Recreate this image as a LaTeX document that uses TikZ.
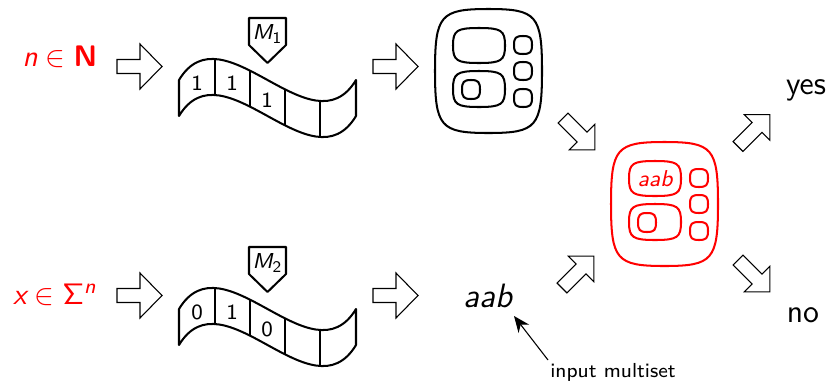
\documentclass[tikz,border=0pt]{standalone}
\usetikzlibrary{arrows.meta}
\DeclareMathAlphabet{\mathsfit}{TU}{lmss}{m}{sl}
\DeclareMathAlphabet{\mathsfbf}{TU}{lmss}{bx}{n}
\DeclareMathAlphabet{\mathsfup}{TU}{lmss}{m}{n}
\definecolor{memred}{RGB}{255,0,0}
\tikzset{
  tapeline/.style={line width=0.75pt, line join=round},
  memline/.style={line width=0.75pt},
  blockarrow/.style={draw, fill=white, line width=0.4pt, line join=miter},
  digit/.style={font=\fontsize{8}{9}\selectfont\sffamily, inner sep=0pt},
  mlab/.style={font=\fontsize{8}{9}\selectfont, inner sep=0pt},
  bigtext/.style={font=\fontsize{11}{13}\selectfont\sffamily, inner sep=0pt},
  outtext/.style={font=\fontsize{12}{14}\selectfont\sffamily, inner sep=0pt},
  harrow/.pic={\draw[blockarrow] (0,-7) -- (23,-7) -- (23,-22.5) -- (45,0) -- (23,22.5) -- (23,7) -- (0,7) -- cycle;},
  darrow/.pic={\draw[blockarrow] (0,-7) -- (27,-7) -- (27,-18) -- (45,0) -- (27,18) -- (27,7) -- (0,7) -- cycle;}
}
\newcommand\mytape[6]{%
\begin{scope}[shift={(0,#1)}]
  \begin{scope}
    \clip (179,80) .. controls (223,7) and (312,153) .. (356,80) -- (356,116) .. controls (312,189) and (223,43) .. (179,116) -- cycle;
    \foreach \xx in {215,250,285,320} \draw[tapeline] (\xx,0) -- (\xx,200);
  \end{scope}
  \draw[tapeline] (179,80) .. controls (223,7) and (312,153) .. (356,80) -- (356,116) .. controls (312,189) and (223,43) .. (179,116) -- cycle;
  \node[digit] (#6a) at (197,83) {#2};
  \node[digit] (#6b) at (232,83) {#3};
  \node[digit] (#6c) at (267,100) {#4};
  \draw[tapeline] (249,18) -- (286,18) -- (286,45) -- (267.5,63) -- (249,45) -- cycle;
  \node[mlab] (#6m) at (267.5,34) {$\mathsfit{M}_{\mathsfup{#5}}$};
\end{scope}}
% squircle: #1 x0, #2 y0, #3 x1, #4 y1, #5 factor
\newcommand\sqshape[5]{%
  \pgfmathsetmacro\sqmx{(#1+#3)/2}\pgfmathsetmacro\sqmy{(#2+#4)/2}%
  \pgfmathsetmacro\sqhw{(#3-#1)/2*#5}\pgfmathsetmacro\sqhh{(#4-#2)/2*#5}%
  \draw[memline] (\sqmx,#2) .. controls ({\sqmx+\sqhw},#2) and (#3,{\sqmy-\sqhh}) .. (#3,\sqmy)
     .. controls (#3,{\sqmy+\sqhh}) and ({\sqmx+\sqhw},#4) .. (\sqmx,#4)
     .. controls ({\sqmx-\sqhw},#4) and (#1,{\sqmy+\sqhh}) .. (#1,\sqmy)
     .. controls (#1,{\sqmy-\sqhh}) and ({\sqmx-\sqhw},#2) .. cycle;}
\newcommand\membrane[3]{%
\begin{scope}[shift={(#1,#2)}, draw=#3]
  \sqshape{435}{9}{542}{133}{0.9}
  \sqshape{453}{28}{505}{63}{0.86}
  \sqshape{453}{71}{505}{107}{0.86}
  \sqshape{462}{80}{480}{99}{0.8}
  \sqshape{514}{36}{532}{54}{0.8}
  \sqshape{514}{62}{532}{80}{0.8}
  \sqshape{514}{89}{532}{107}{0.8}
\end{scope}}
\begin{document}
\begin{tikzpicture}[x=0.37pt, y=-0.37pt]
  \useasboundingbox (0,0) rectangle (828,383);
  % inputs
  \node[bigtext, text=memred] (nin) at (60,57) {$\mathsfit{n}\in\mathsfbf{N}$};
  \node[bigtext, text=memred] (xin) at (55,295) {$\mathsfit{x}\in\mathsf{\Sigma}^{\mathsfit{n}}$};
  % arrows horizontal
  \pic at (117,66.5) {harrow};
  \pic at (373,66.5) {harrow};
  \pic at (117,295.5) {harrow};
  \pic at (373,295.5) {harrow};
  % tapes
  \mytape{0}{1}{1}{1}{1}{ta}
  \mytape{229}{0}{1}{0}{2}{tb}
  % membranes
  \membrane{0}{0}{black}
  \membrane{176}{133}{memred}
  \node[font=\fontsize{8.5}{10}\selectfont\sffamily\slshape, text=memred, inner sep=0pt] (raab) at (655,178.5) {aab};
  % diagonal arrows
  \pic[rotate=-45] at (563,118) {darrow};
  \pic[rotate=45] at (738,146.5) {darrow};
  \pic[rotate=45] at (562,288) {darrow};
  \pic[rotate=-45] at (738,260) {darrow};
  % outputs
  \node[outtext] (yes) at (806,90) {yes};
  \node[outtext] (no) at (803,315) {no};
  \node[font=\fontsize{12.5}{15}\selectfont\sffamily\slshape, inner sep=0pt] (aab) at (488,296) {aab};
  \node[font=\fontsize{7.5}{9}\selectfont\sffamily, inner sep=0pt] (lab) at (613,372) {input multiset};
  \coordinate (labtop) at (548,360);
  \coordinate (aabtip) at (514,316);
  \draw[line width=0.4pt, -{Stealth[length=6pt,width=5pt]}] (labtop) -- (aabtip);
\end{tikzpicture}
\end{document}
